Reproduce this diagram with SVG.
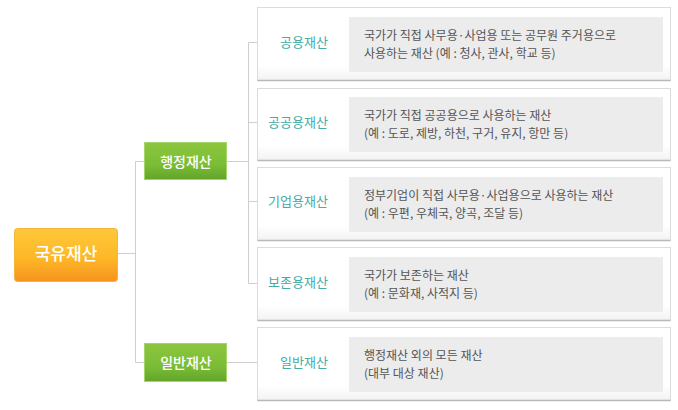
<svg xmlns="http://www.w3.org/2000/svg" width="678" height="410" viewBox="0 0 678 410">
<defs>
<linearGradient id="gOrange" x1="0" y1="0" x2="0" y2="1">
<stop offset="0" stop-color="#ffc83a"/>
<stop offset="0.55" stop-color="#fdb827"/>
<stop offset="1" stop-color="#f7931e"/>
</linearGradient>
<linearGradient id="gGreen" x1="0" y1="0" x2="0" y2="1">
<stop offset="0" stop-color="#8cc63e"/>
<stop offset="0.6" stop-color="#7bbd36"/>
<stop offset="1" stop-color="#62a52a"/>
</linearGradient>
<linearGradient id="gBox" x1="0" y1="0" x2="0" y2="1">
<stop offset="0" stop-color="#ffffff"/>
<stop offset="0.8" stop-color="#ffffff"/>
<stop offset="1" stop-color="#f2f2f2"/>
</linearGradient>
</defs>
<style>
.conn{stroke:#cfcfcf;stroke-width:1;fill:none}
.box{fill:url(#gBox);stroke:#dcdcdc;stroke-width:1}
.boxb{stroke:#b9b9b9;stroke-width:1.5}
.inner{fill:#ececec}
.lbl{font-family:"Noto Sans CJK KR","Noto Sans",sans-serif;font-size:13px;fill:#45aca6;text-anchor:middle}
.desc{font-family:"Noto Sans CJK KR","Noto Sans",sans-serif;font-size:12px;fill:#555}
.gtxt{font-family:"Noto Sans CJK KR","Noto Sans",sans-serif;font-size:14px;fill:#fff;text-anchor:middle;font-weight:500}
.otxt{font-family:"Noto Sans CJK KR","Noto Sans",sans-serif;font-size:17px;fill:#fff;text-anchor:middle;font-weight:500}
</style>
<rect width="678" height="410" fill="#fff"/>
<g id="connectors">
<path class="conn" d="M118 253.5H135.5M135.5 161.5V362.5M135.5 161.5H144M135.5 362.5H144"/>
<path class="conn" d="M227 161.5H248.5M248.5 42.5V283.5M248.5 42.5H257M248.5 122.5H257M248.5 201.5H257M248.5 283.5H257M227 362.5H257"/>
</g>
<g id="root">
<rect x="14.5" y="228.5" width="103" height="53" rx="3" fill="url(#gOrange)" stroke="#f5b53a"/>
<text class="otxt" x="66" y="260">국유재산</text>
</g>
<g id="admin">
<rect x="144.5" y="142.5" width="82" height="37" fill="url(#gGreen)" stroke="#a5d46a"/>
<text class="gtxt" x="186" y="166.5">행정재산</text>
</g>
<g id="general">
<rect x="144.5" y="343.5" width="82" height="38" fill="url(#gGreen)" stroke="#a5d46a"/>
<text class="gtxt" x="186" y="367.5">일반재산</text>
</g>
<g id="public-use">
<rect class="box" x="257.5" y="7.5" width="413" height="73"/>
<path class="boxb" d="M257.5 80.5H670.5"/>
<rect class="inner" x="349" y="17" width="314" height="55"/>
<text class="lbl" x="304" y="47">공용재산</text>
<text class="desc" x="364" y="39.5">국가가 직접 사무용·사업용 또는 공무원 주거용으로</text>
<text class="desc" x="364" y="57.5">사용하는 재산 (예 : 청사, 관사, 학교 등)</text>
</g>
<g id="common-use">
<rect class="box" x="257.5" y="88.5" width="413" height="72"/>
<path class="boxb" d="M257.5 160.5H670.5"/>
<rect class="inner" x="349" y="97" width="314" height="55"/>
<text class="lbl" x="298" y="127">공공용재산</text>
<text class="desc" x="364" y="119.5">국가가 직접 공공용으로 사용하는 재산</text>
<text class="desc" x="364" y="137.5">(예 : 도로, 제방, 하천, 구거, 유지, 항만 등)</text>
</g>
<g id="enterprise-use">
<rect class="box" x="257.5" y="167.5" width="413" height="73"/>
<path class="boxb" d="M257.5 240.5H670.5"/>
<rect class="inner" x="349" y="177" width="314" height="55"/>
<text class="lbl" x="298" y="206">기업용재산</text>
<text class="desc" x="364" y="199.5">정부기업이 직접 사무용·사업용으로 사용하는 재산</text>
<text class="desc" x="364" y="217.5">(예 : 우편, 우체국, 양곡, 조달 등)</text>
</g>
<g id="preservation">
<rect class="box" x="257.5" y="247.5" width="413" height="73"/>
<path class="boxb" d="M257.5 320.5H670.5"/>
<rect class="inner" x="349" y="257" width="314" height="55"/>
<text class="lbl" x="298" y="287">보존용재산</text>
<text class="desc" x="364" y="279.5">국가가 보존하는 재산</text>
<text class="desc" x="364" y="297.5">(예 : 문화재, 사적지 등)</text>
</g>
<g id="general-detail">
<rect class="box" x="257.5" y="327.5" width="413" height="73"/>
<path class="boxb" d="M257.5 400.5H670.5"/>
<rect class="inner" x="349" y="337" width="314" height="55"/>
<text class="lbl" x="304" y="367">일반재산</text>
<text class="desc" x="364" y="359.5">행정재산 외의 모든 재산</text>
<text class="desc" x="364" y="377.5">(대부 대상 재산)</text>
</g>
</svg>
